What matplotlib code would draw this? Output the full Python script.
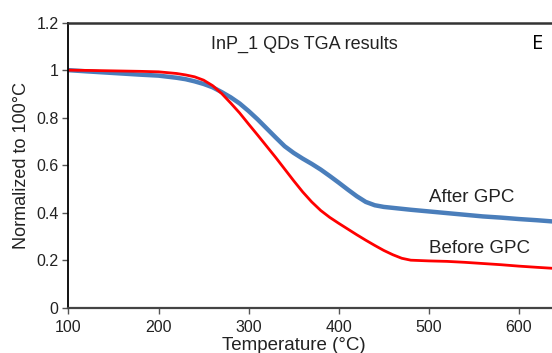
import matplotlib
matplotlib.use("Agg")
import matplotlib.pyplot as plt
from matplotlib.ticker import FormatStrFormatter

plt.rcParams['font.family'] = ['Liberation Sans', 'DejaVu Sans']

# TGA traces, normalized to the mass at 100 °C
temp = [100, 120, 150, 180, 200, 220, 230, 240, 250, 260, 270, 280, 290, 300,
        310, 320, 330, 340, 350, 360, 370, 380, 390, 400, 410, 420, 430, 440,
        450, 460, 470, 480, 500, 520, 540, 560, 580, 600, 620, 637]
after_gpc = [1.0, 0.995, 0.988, 0.981, 0.977, 0.968, 0.962, 0.953, 0.942,
             0.928, 0.908, 0.886, 0.86, 0.828, 0.793, 0.755, 0.717, 0.68,
             0.652, 0.628, 0.606, 0.582, 0.555, 0.527, 0.498, 0.47, 0.446,
             0.432, 0.425, 0.421, 0.417, 0.413, 0.406, 0.399, 0.392, 0.385,
             0.38, 0.374, 0.369, 0.364]
before_gpc = [1.0, 0.999, 0.997, 0.995, 0.993, 0.986, 0.98, 0.972, 0.958,
              0.935, 0.902, 0.862, 0.82, 0.773, 0.727, 0.68, 0.633, 0.584,
              0.535, 0.488, 0.446, 0.41, 0.381, 0.356, 0.332, 0.308, 0.285,
              0.263, 0.242, 0.224, 0.209, 0.201, 0.198, 0.196, 0.192, 0.187,
              0.182, 0.176, 0.171, 0.167]
xticks = [100, 200, 300, 400, 500, 600]
yticks = [0, 0.2, 0.4, 0.6, 0.8, 1.0, 1.2]

fig = plt.figure(figsize=(5.52, 3.53), dpi=100)
ax = fig.add_axes([0.124, 0.1275, 0.876, 0.8085])

ax.plot(temp, after_gpc, color='#4a7ebb', lw=3.2, solid_capstyle='butt',
        solid_joinstyle='round')
ax.plot(temp, before_gpc, color='#ff0000', lw=2.0, solid_capstyle='butt',
        solid_joinstyle='round')

ax.set_xlim(100, 636.7)
ax.set_ylim(0, 1.2)
ax.set_xticks(xticks)
ax.set_yticks(yticks)
ax.yaxis.set_major_formatter(FormatStrFormatter('%g'))
ax.tick_params(direction='out', length=4, width=1, color='#555555',
               labelsize=11.5, labelcolor='#222222')
ax.tick_params(axis='x', pad=5)
ax.tick_params(axis='y', pad=3)

ax.spines['right'].set_visible(False)
ax.spines['left'].set_linewidth(1.3)
ax.spines['left'].set_color('black')
ax.spines['top'].set_linewidth(1.8)
ax.spines['top'].set_color('#333333')
ax.spines['bottom'].set_linewidth(1.6)
ax.spines['bottom'].set_color('#444444')

ax.set_xlabel('Temperature (°C)', fontsize=13.5, color='#222222')
ax.xaxis.set_label_coords(0.466, -0.1)
ax.xaxis.label.set_va('top')
ax.set_ylabel('Normalized to 100°C', fontsize=13, color='#222222')
ax.yaxis.set_label_coords(-0.08, 0.5)

ax.text(258, 1.11, 'InP_1 QDs TGA results', fontsize=13, color='#222222',
        va='center', ha='left')
ax.text(614, 1.11, 'E', fontsize=14.5, color='black', va='center', ha='left',
        family=['Open Sans', 'DejaVu Sans'])
ax.text(500, 0.466, 'After GPC', fontsize=13.5, color='#222222',
        va='center', ha='left')
ax.text(500, 0.251, 'Before GPC', fontsize=13.5, color='#222222',
        va='center', ha='left')

fig.savefig('out.png', dpi=100)
